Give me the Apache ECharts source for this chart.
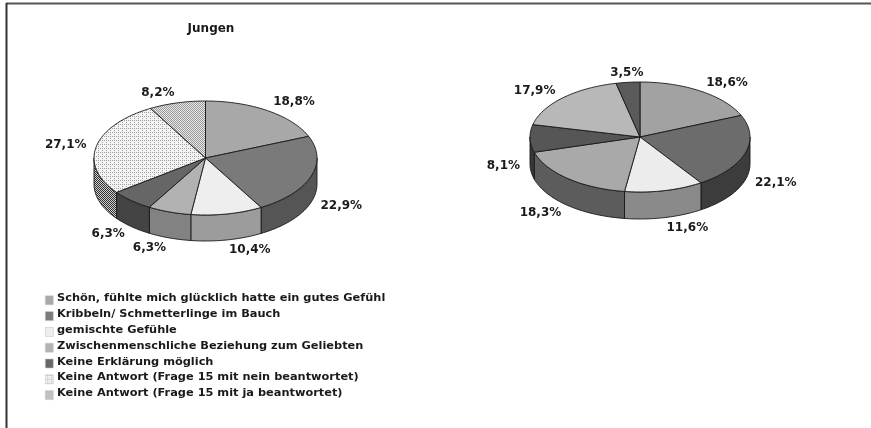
<!DOCTYPE html>
<html>
<head>
<meta charset="utf-8">
<script src="https://cdn.jsdelivr.net/npm/echarts@6/dist/echarts.min.js"></script>
<style>
  html, body { margin: 0; padding: 0; background: #fff; }
  #chart { width: 871px; height: 428px; }
</style>
</head>
<body>
<div id="chart"></div>
<script>
// categories (legend order = slice order, clockwise from 12 o'clock)
const categories = [
  "Schön, fühlte mich glücklich hatte ein gutes Gefühl",
  "Kribbeln/ Schmetterlinge im Bauch",
  "gemischte Gefühle",
  "Zwischenmenschliche Beziehung zum Geliebten",
  "Keine Erklärung möglich",
  "Keine Antwort (Frage 15 mit nein beantwortet)",
  "Keine Antwort (Frage 15 mit ja beantwortet)"
];
const jungenValues = [18.8, 22.9, 10.4, 6.3, 6.3, 27.1, 8.2];
const zweiteValues = [18.6, 22.1, 11.6, 18.3, 8.1, 17.9, 3.5];
const leftTitle = "Jungen";

// little tiled patterns for the two "Keine Antwort" slices
function makePattern(size, bg, fg, cells) {
  const c = document.createElement("canvas");
  c.width = size; c.height = size;
  const g = c.getContext("2d");
  g.fillStyle = bg; g.fillRect(0, 0, size, size);
  g.fillStyle = fg;
  cells.forEach(p => g.fillRect(p[0], p[1], 1, 1));
  return { image: c, repeat: "repeat" };
}
const neinTop = makePattern(4, "#f4f4f4", "#a0a0a0", [[0, 0], [2, 2], [2, 0]]);
const neinSide = makePattern(2, "#d0d0d0", "#303030", [[0, 0], [1, 1]]);
const jaTop = makePattern(2, "#e8e8e8", "#999999", [[0, 0], [1, 1]]);
const jaSide = makePattern(2, "#aaaaaa", "#404040", [[0, 0], [1, 1]]);

const leftTop = ["#a8a8a8", "#7a7a7a", "#eeeeee", "#b2b2b2", "#666666", neinTop, jaTop];
const leftSide = ["#777777", "#555555", "#9c9c9c", "#828282", "#444444", neinSide, jaSide];
const rightTop = ["#a2a2a2", "#6c6c6c", "#ececec", "#a9a9a9", "#565656", "#b8b8b8", "#5a5a5a"];
const rightSide = ["#707070", "#3c3c3c", "#8a8a8a", "#5c5c5c", "#383838", "#808080", "#3a3a3a"];

const labelFont = 'bold 12px "DejaVu Sans"';

function fmt(v) {
  return v.toFixed(1).replace(".", ",") + "%";
}

function pieRenderer(values, geo, topColors, sideColors) {
  const total = values.reduce((a, b) => a + b, 0);
  const starts = [];
  let acc = 0;
  values.forEach(v => { starts.push(acc); acc += v; });
  const pt = (t, dy) => [geo.cx + geo.rx * Math.sin(t), geo.cy - geo.ry * Math.cos(t) + dy];
  const arc = (a, b, dy) => {
    const n = Math.max(2, Math.ceil((b - a) / 0.03));
    const out = [];
    for (let k = 0; k <= n; k++) out.push(pt(a + (b - a) * k / n, dy));
    return out;
  };
  return function (params, api) {
    const i = params.dataIndex;
    const v = api.value(0);
    const t1 = starts[i] / total * Math.PI * 2;
    const t2 = (starts[i] + v) / total * Math.PI * 2;
    const children = [];
    // front wall
    const a = Math.max(t1, Math.PI / 2), b = Math.min(t2, Math.PI * 1.5);
    if (a < b) {
      const pts = arc(a, b, 0).concat(arc(a, b, geo.depth).reverse());
      children.push({
        type: "polygon", z2: 1,
        shape: { points: pts },
        style: { fill: sideColors[i], stroke: "#1a1a1a", lineWidth: 0.9 }
      });
    }
    // top face
    children.push({
      type: "polygon", z2: 2,
      shape: { points: [[geo.cx, geo.cy]].concat(arc(t1, t2, 0)) },
      style: { fill: topColors[i], stroke: "#1a1a1a", lineWidth: 0.9 }
    });
    // label
    const tm = (t1 + t2) / 2;
    const s = Math.sin(tm), c = Math.cos(tm);
    const off = 10;
    const lx = geo.cx + (geo.rx + off) * s;
    const ly = geo.cy - (geo.ry + off) * c + (c < 0 ? geo.depth : 0);
    children.push({
      type: "text", z2: 3,
      style: {
        text: fmt(v), x: lx, y: ly,
        align: Math.abs(s) < 0.15 ? "center" : (s > 0 ? "left" : "right"),
        verticalAlign: "middle",
        font: labelFont, fill: "#1a1a1a"
      }
    });
    return { type: "group", children: children };
  };
}

const leftGeo = { cx: 205.5, cy: 158, rx: 111.5, ry: 57, depth: 26 };
const rightGeo = { cx: 640, cy: 137, rx: 110, ry: 55, depth: 27 };

// legend built as graphic rows
const legendX = 45, legendY = 300, legendStep = 15.8;
const legendGraphics = [];
categories.forEach((name, i) => {
  const y = legendY + i * legendStep;
  legendGraphics.push({
    type: "rect", left: legendX, top: y - 4.5,
    shape: { width: 8, height: 9 },
    style: { fill: leftTop[i], stroke: "#c8c8c8", lineWidth: 0.6 }
  });
  legendGraphics.push({
    type: "text", left: legendX + 12, top: y - 7,
    style: { text: name, font: 'bold 11.35px "DejaVu Sans"', fill: "#1a1a1a" }
  });
});

const option = {
  backgroundColor: "#ffffff",
  animation: false,
  title: {
    text: leftTitle,
    left: 206, top: 18, textAlign: "center",
    textStyle: { fontFamily: "DejaVu Sans", fontWeight: "bold", fontSize: 12, color: "#1a1a1a" }
  },
  graphic: [
    { type: "line", shape: { x1: 6, y1: 3.5, x2: 871, y2: 3.5 }, style: { stroke: "#555555", lineWidth: 2 } },
    { type: "line", shape: { x1: 6.5, y1: 3, x2: 6.5, y2: 428 }, style: { stroke: "#333333", lineWidth: 2 } }
  ].concat(legendGraphics),
  series: [
    {
      type: "custom", name: leftTitle, coordinateSystem: "none",
      data: jungenValues.map((v, i) => ({ name: categories[i], value: [v] })),
      renderItem: pieRenderer(jungenValues, leftGeo, leftTop, leftSide)
    },
    {
      type: "custom", name: "rechts", coordinateSystem: "none",
      data: zweiteValues.map((v, i) => ({ name: categories[i], value: [v] })),
      renderItem: pieRenderer(zweiteValues, rightGeo, rightTop, rightSide)
    }
  ]
};

const chart = echarts.init(document.getElementById("chart"), null, { renderer: "canvas" });
chart.setOption(option);
window.addEventListener("resize", () => chart.resize());
</script>
</body>
</html>
